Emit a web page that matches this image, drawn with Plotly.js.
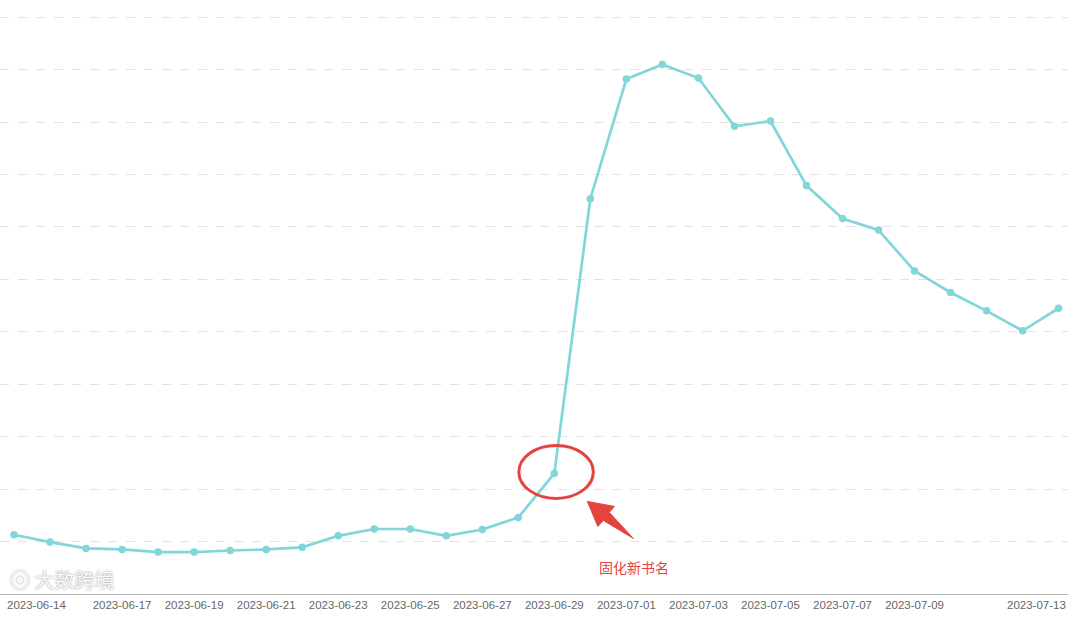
<!DOCTYPE html>
<html>
<head>
<meta charset="utf-8">
<script src="https://cdn.plot.ly/plotly-3.0.1.min.js"></script>
<style>html,body{margin:0;padding:0;background:#fff}#chart{width:1080px;height:617px}</style>
</head>
<body>
<div id="chart"></div>
<script>
const dates = ["2023-06-14","2023-06-15","2023-06-16","2023-06-17","2023-06-18","2023-06-19","2023-06-20","2023-06-21","2023-06-22","2023-06-23","2023-06-24","2023-06-25","2023-06-26","2023-06-27","2023-06-28","2023-06-29","2023-06-30","2023-07-01","2023-07-02","2023-07-03","2023-07-04","2023-07-05","2023-07-06","2023-07-07","2023-07-08","2023-07-09","2023-07-10","2023-07-11","2023-07-12","2023-07-13"];
const values = [113,99,87,85,80,80,83,85,89,111,124,124,111,123,146,230,754,982,1010,984,892,902,779,716,694,616,575,540,502,545];
const tickDates = ["2023-06-17","2023-06-19","2023-06-21","2023-06-23","2023-06-25","2023-06-27","2023-06-29","2023-07-01","2023-07-03","2023-07-05","2023-07-07","2023-07-09"];
const edgeLabels = ["2023-06-14","2023-07-13"];
const markIndex = 15;
const markLabel = "固化新书名";
const watermark = "大数跨境";

const lineColor = "#80d6d8";
const red = "#e5433d";
const markX = dates[markIndex], markY = values[markIndex];

const trace = {
  x: dates, y: values, type: "scatter", mode: "lines+markers",
  line: {color: lineColor, width: 2.7},
  marker: {color: lineColor, size: 7.5},
  hoverinfo: "x+y"
};

const layout = {
  width: 1080, height: 617,
  margin: {l: 0, r: 12, t: 12, b: 23},
  paper_bgcolor: "#fff", plot_bgcolor: "#fff",
  showlegend: false,
  xaxis: {
    type: "category", range: [-0.389, 29.26],
    tickmode: "array", tickvals: tickDates, ticktext: tickDates,
    showgrid: false, zeroline: false,
    showline: true, linecolor: "#b5b5b5", linewidth: 1,
    ticks: "", ticklen: 0,
    tickfont: {family: "Liberation Sans, Arial, sans-serif", size: 11.5, color: "#666"}
  },
  yaxis: {
    range: [0, 1110], dtick: 100, tick0: 0,
    showticklabels: false, ticks: "",
    showgrid: true, gridcolor: "#e2e2e2", griddash: "dash", gridwidth: 1,
    zeroline: false, showline: false, fixedrange: true
  },
  shapes: [
    {type: "circle", xref: "x", yref: "y", xsizemode: "pixel", ysizemode: "pixel",
     xanchor: markX, yanchor: markY, x0: -35.5, x1: 39, y0: -25, y1: 28,
     line: {color: red, width: 3}},
    {type: "path", xref: "x", yref: "y", xsizemode: "pixel", ysizemode: "pixel",
     xanchor: markX, yanchor: markY,
     path: "M33,-28 L60,-33 L55,-39 L79,-65 L49,-47 L43.5,-53 Z",
     fillcolor: red, line: {color: red, width: 1}}
  ],
  annotations: [
    {x: 0, xref: "paper", y: 0, yref: "paper", xanchor: "left", yanchor: "top",
     xshift: 5, yshift: -3, text: edgeLabels[0], showarrow: false,
     font: {family: "Liberation Sans, Arial, sans-serif", size: 11.5, color: "#666"}},
    {x: 1, xref: "paper", y: 0, yref: "paper", xanchor: "right", yanchor: "top",
     xshift: 0, yshift: -3, text: edgeLabels[1], showarrow: false,
     font: {family: "Liberation Sans, Arial, sans-serif", size: 11.5, color: "#666"}},
    {x: markX, xref: "x", y: 0, yref: "paper", xanchor: "center", yanchor: "middle",
     xshift: 80, yshift: 27, text: markLabel, showarrow: false,
     font: {family: "Noto Sans CJK SC, sans-serif", size: 14, color: red}},
    {x: 0, xref: "paper", y: 0, yref: "paper", xanchor: "left", yanchor: "bottom",
     xshift: 8, yshift: -2, text: "⦿ " + watermark, showarrow: false,
     font: {family: "Noto Sans CJK SC, sans-serif", size: 20, color: "rgba(255,255,255,0.95)",
            shadow: "0px 0px 2px rgba(0,0,0,0.5)"}}
  ]
};

Plotly.newPlot("chart", [trace], layout, {displayModeBar: false, staticPlot: true});
</script>
</body>
</html>
